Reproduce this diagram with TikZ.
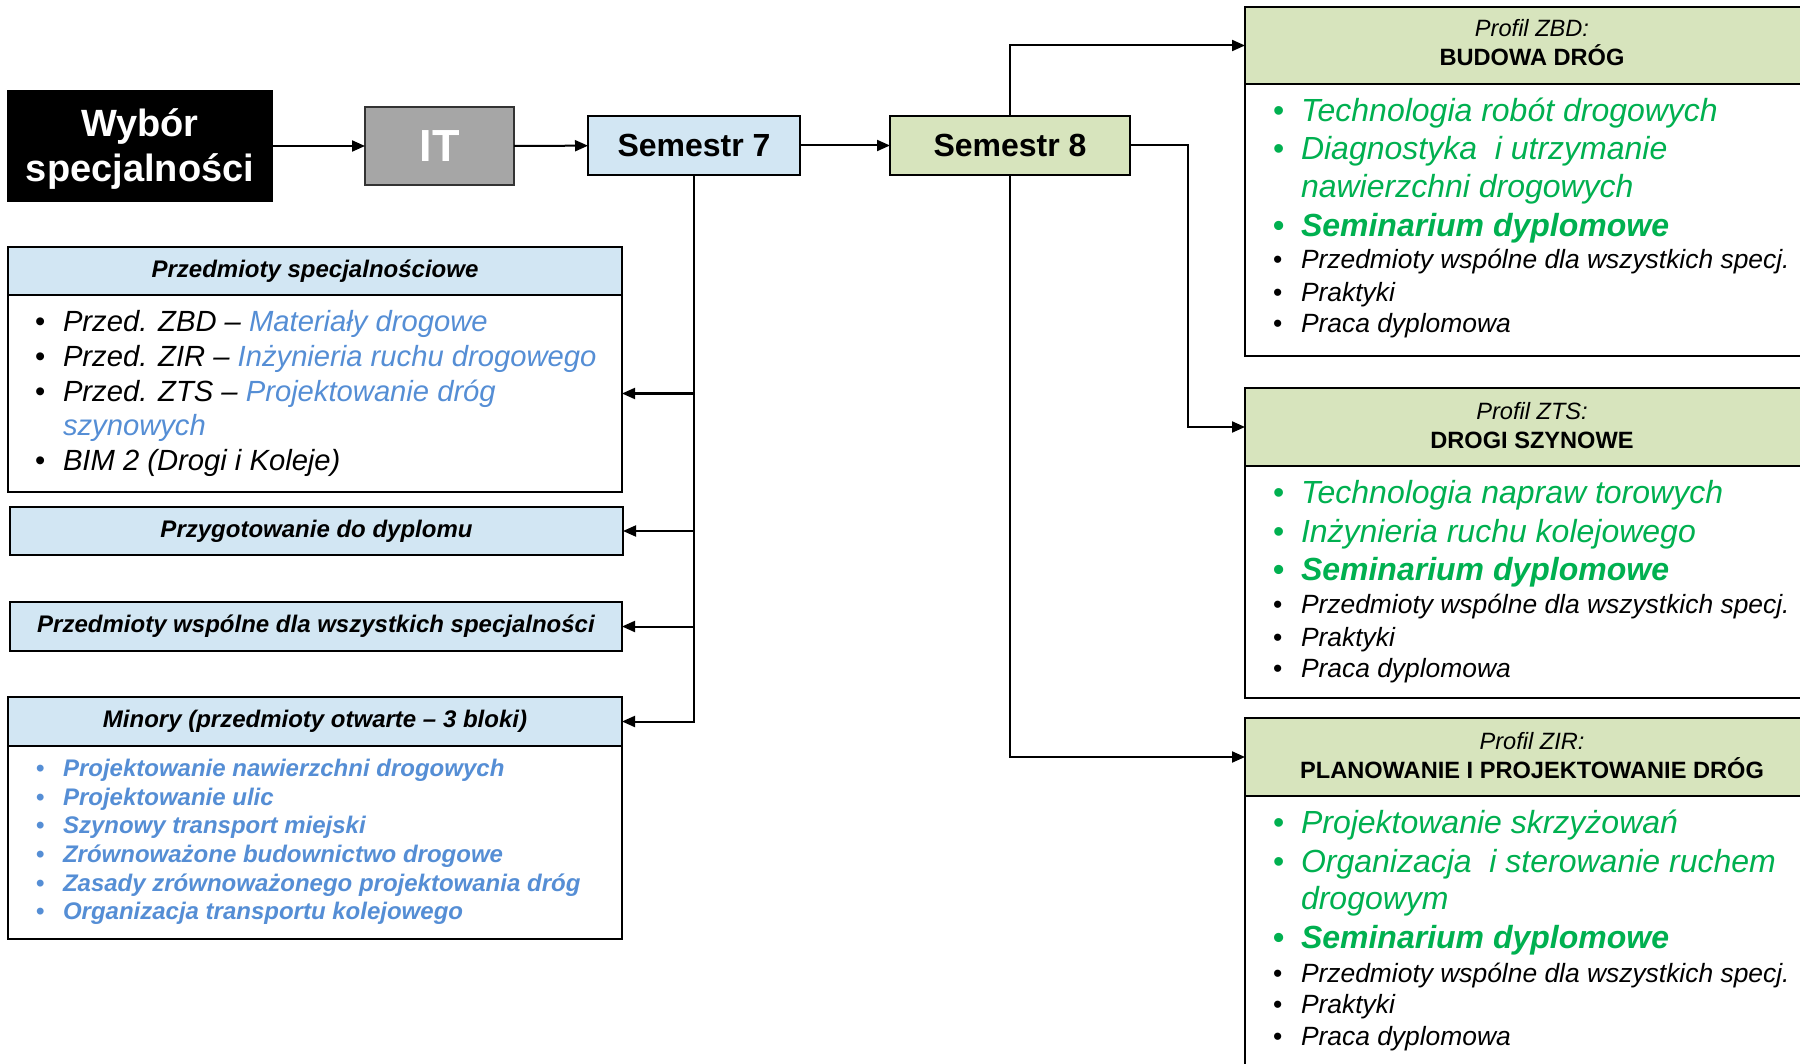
\documentclass[tikz,border=0pt]{standalone}
\usepackage{fontspec}
\setmainfont{Liberation Sans}
\usetikzlibrary{arrows.meta}
\definecolor{lblue}{HTML}{D2E6F3}
\definecolor{lgreen}{HTML}{D7E4BD}
\definecolor{itgray}{HTML}{A6A6A6}
\definecolor{tblue}{HTML}{558ED5}
\definecolor{tgreen}{HTML}{00B050}
\begin{document}
\begin{tikzpicture}[x=0.5pt,y=-0.5pt,
  box/.style={draw=black, line width=1pt, inner sep=0pt, outer sep=0pt},
  arr/.style={line width=1pt, -{Triangle[length=6.5pt,width=5.5pt]}},
  txt/.style={inner sep=0pt, outer sep=0pt, anchor=base west},
  ctxt/.style={inner sep=0pt, outer sep=0pt, anchor=base},
  lit/.style={txt, font=\fontsize{14.6}{17}\selectfont\itshape},
  mit/.style={txt, font=\fontsize{12}{14}\selectfont\bfseries\itshape, text=tblue},
  git/.style={txt, font=\fontsize{16}{19}\selectfont\itshape, text=tgreen},
  gbit/.style={txt, font=\fontsize{16}{19}\selectfont\bfseries\itshape, text=tgreen},
  kit/.style={txt, font=\fontsize{13.2}{16}\selectfont\itshape},
  hdl/.style={font=\fontsize{12}{14}\selectfont\bfseries\itshape},
  rhi/.style={ctxt, font=\fontsize{11.8}{14}\selectfont\itshape},
  rhb/.style={ctxt, font=\fontsize{11.8}{14}\selectfont\bfseries},
]
\useasboundingbox (0,0) rectangle (1800,1064);
\clip (0,0) rectangle (1800,1064);
\newcommand{\blt}[1]{\makebox[#1][l]{\upshape\textbullet}}

% top row
\node[box, fill=black, minimum width=132pt, minimum height=55pt] (wyb) at (140,146) {};
\node[text=white, align=center, inner sep=0pt, font=\fontsize{19}{22.5}\selectfont\bfseries]
      (wybt) at (140,149.5) {Wybór\\specjalności};
\node[box, fill=itgray, draw=black!80, minimum width=74.5pt, minimum height=39pt, text=white,
      font=\fontsize{22.5}{24}\selectfont\bfseries] (it) at (439.5,146) {IT};
\node[box, fill=lblue, minimum width=106pt, minimum height=29.5pt,
      font=\fontsize{16}{18}\selectfont\bfseries] (sem7) at (694,145.5) {Semestr 7};
\node[box, fill=lgreen, minimum width=120pt, minimum height=29.5pt,
      font=\fontsize{16}{18}\selectfont\bfseries] (sem8) at (1010,145.5) {Semestr 8};

% left boxes
\node[box, fill=lblue, minimum width=307pt, minimum height=24pt, hdl] (spech) at (315,271) {Przedmioty specjalnościowe};
\node[box, fill=white, minimum width=307pt, minimum height=98.5pt] (specb) at (315,393.5) {};
\node[box, fill=lblue, minimum width=306.5pt, minimum height=24pt, hdl] (przyg) at (316.5,531) {Przygotowanie do dyplomu};
\node[box, fill=lblue, minimum width=306pt, minimum height=24.5pt, hdl] (wsp) at (316,626.5) {Przedmioty wspólne dla wszystkich specjalności};
\node[box, fill=lblue, minimum width=307pt, minimum height=24.5pt, hdl] (minh) at (315,721.5) {Minory (przedmioty otwarte – 3 bloki)};
\node[box, fill=white, minimum width=307pt, minimum height=96.5pt] (minb) at (315,842.5) {};

\node[lit] (s1) at (35,332) {\blt{14pt}Przed. ZBD – \textcolor{tblue}{Materiały drogowe}};
\node[lit] (s2) at (35,366.5) {\blt{14pt}Przed. ZIR – \textcolor{tblue}{Inżynieria ruchu drogowego}};
\node[lit] (s3) at (35,401) {\blt{14pt}Przed. ZTS – \textcolor{tblue}{Projektowanie dróg}};
\node[lit, text=tblue] (s4) at (63,435.5) {szynowych};
\node[lit] (s5) at (35,470) {\blt{14pt}BIM 2 (Drogi i Koleje)};

\node[mit] (m1) at (36,776) {\blt{13.5pt}Projektowanie nawierzchni drogowych};
\node[mit] (m2) at (36,805) {\blt{13.5pt}Projektowanie ulic};
\node[mit] (m3) at (36,833) {\blt{13.5pt}Szynowy transport miejski};
\node[mit] (m4) at (36,862) {\blt{13.5pt}Zrównoważone budownictwo drogowe};
\node[mit] (m5) at (36,891) {\blt{13.5pt}Zasady zrównoważonego projektowania dróg};
\node[mit] (m6) at (36,919) {\blt{13.5pt}Organizacja transportu kolejowego};

% right boxes
\node[box, fill=lgreen, minimum width=287.5pt, minimum height=38.5pt] (zbdh) at (1532.5,45.5) {};
\node[box, fill=white, minimum width=287.5pt, minimum height=136pt] (zbdb) at (1532.5,220) {};
\node[box, fill=lgreen, minimum width=287.5pt, minimum height=39pt] (ztsh) at (1532.5,427) {};
\node[box, fill=white, minimum width=287.5pt, minimum height=116pt] (ztsb) at (1532.5,582) {};
\node[box, fill=lgreen, minimum width=287.5pt, minimum height=39pt] (zirh) at (1532.5,757) {};
\node[box, fill=white, minimum width=287.5pt, minimum height=152pt] (zirb) at (1532.5,948) {};

\node[rhi] (zbdt1) at (1532,37) {Profil ZBD:};
\node[rhb] (zbdt2) at (1532,66) {BUDOWA DRÓG};
\node[git] (zb1) at (1273,122) {\blt{14pt}Technologia robót drogowych};
\node[git] (zb2) at (1273,160) {\blt{14pt}Diagnostyka\ \ i utrzymanie};
\node[git] (zb3) at (1301,198) {nawierzchni drogowych};
\node[gbit] (zb4) at (1273,237) {\blt{14pt}Seminarium dyplomowe};
\node[kit] (zb5) at (1273,269) {\blt{14pt}Przedmioty wspólne dla wszystkich specj.};
\node[kit] (zb6) at (1273,302) {\blt{14pt}Praktyki};
\node[kit] (zb7) at (1273,333) {\blt{14pt}Praca dyplomowa};

\node[rhi] (ztst1) at (1532,419) {Profil ZTS:};
\node[rhb] (ztst2) at (1532,448) {DROGI SZYNOWE};
\node[git] (zt1) at (1273,503) {\blt{14pt}Technologia napraw torowych};
\node[git] (zt2) at (1273,542) {\blt{14pt}Inżynieria ruchu kolejowego};
\node[gbit] (zt3) at (1273,580) {\blt{14pt}Seminarium dyplomowe};
\node[kit] (zt4) at (1273,613) {\blt{14pt}Przedmioty wspólne dla wszystkich specj.};
\node[kit] (zt5) at (1273,646) {\blt{14pt}Praktyki};
\node[kit] (zt6) at (1273,677) {\blt{14pt}Praca dyplomowa};

\node[rhi] (zirt1) at (1532,749) {Profil ZIR:};
\node[rhb] (zirt2) at (1532,778) {PLANOWANIE I PROJEKTOWANIE DRÓG};
\node[git] (zi1) at (1273,833) {\blt{14pt}Projektowanie skrzyżowań};
\node[git] (zi2) at (1273,872) {\blt{14pt}Organizacja\ \ i sterowanie ruchem};
\node[git] (zi3) at (1301,909) {drogowym};
\node[gbit] (zi4) at (1273,948) {\blt{14pt}Seminarium dyplomowe};
\node[kit] (zi5) at (1273,982) {\blt{14pt}Przedmioty wspólne dla wszystkich specj.};
\node[kit] (zi6) at (1273,1013) {\blt{14pt}Praktyki};
\node[kit] (zi7) at (1273,1045) {\blt{14pt}Praca dyplomowa};

% connectors
\draw[arr] (wyb) -- (it);
\draw[arr] (it) -- (sem7);
\draw[arr] (sem7) -- (sem8);
\draw[arr] (sem7.south) |- (specb.east);
\draw[arr] (sem7.south) |- (przyg.east);
\draw[arr] (sem7.south) |- (wsp.east);
\draw[arr] (sem7.south) |- (minh.east);
\draw[arr] (sem8.north) |- (zbdh.west);
\coordinate (kink) at (1188,145.5);
\draw[arr] (sem8.east) -- (kink) |- (ztsh.west);
\draw[arr] (sem8.south) |- (zirh.west);
\end{tikzpicture}
\end{document}
